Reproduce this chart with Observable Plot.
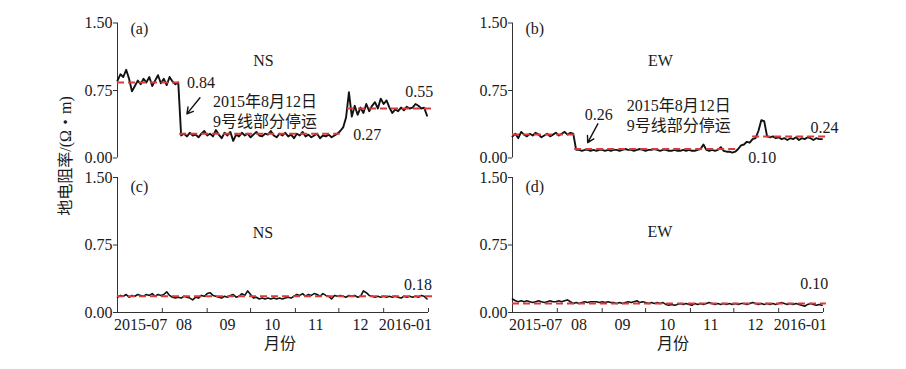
<!DOCTYPE html>
<html>
<head>
<meta charset="utf-8">
<script src="https://cdn.jsdelivr.net/npm/d3@7"></script>
<script src="https://cdn.jsdelivr.net/npm/@observablehq/plot@0.6"></script>
<style>
  html, body { margin: 0; padding: 0; background: #fff; }
  #root { position: relative; width: 906px; height: 369px; overflow: hidden;
          font-family: "Liberation Serif", "Noto Sans CJK SC", serif; color: #1a1a1a; }
  #root svg { position: absolute; left: 0; top: 0; }
  .ytitle { position: absolute; left: 64px; top: 156px; transform: translate(-50%, -50%) rotate(-90deg);
            white-space: nowrap; font-size: 16px; }
  .xtitle { position: absolute; top: 342px; transform: translate(-50%, -50%); font-size: 16px; white-space: nowrap; }
</style>
</head>
<body>
<div id="root"></div>
<script>
// ---------------- DATA ----------------
const startDate = "2015-07-01";
const endDate = "2016-02-01";
const stepDays = 2; // one reading every 2 days

const yTicks = [0, 0.75, 1.5];
const monthTicks = ["2015-08-01", "2015-09-01", "2015-10-01", "2015-11-01", "2015-12-01", "2016-01-01", "2016-02-01"];
const monthLabelDates = ["2015-07-17", "2015-08-16", "2015-09-15", "2015-10-16", "2015-11-15", "2015-12-16", "2016-01-16"];
const monthLabels = ["2015-07", "08", "09", "10", "11", "12", "2016-01"];

// (a) NS, station 1
const seriesA = [
  0.86, 0.93, 0.90, 0.98, 0.88, 0.74, 0.80, 0.86, 0.82, 0.88, 0.84, 0.90, 0.80, 0.86, 0.92, 0.83, 0.88, 0.81, 0.90, 0.85, 0.82, 0.84,
  0.25, 0.27, 0.24, 0.28, 0.25, 0.26, 0.23, 0.27, 0.30, 0.25,
  0.27, 0.24, 0.31, 0.26, 0.22, 0.28, 0.25, 0.29, 0.19, 0.26,
  0.24, 0.28, 0.25, 0.27, 0.23, 0.26, 0.29, 0.25, 0.24, 0.27,
  0.26, 0.30, 0.25, 0.23, 0.27, 0.25, 0.28, 0.24, 0.26, 0.22,
  0.27, 0.25, 0.29, 0.24, 0.26, 0.23, 0.25, 0.27, 0.22, 0.25,
  0.24, 0.26, 0.23, 0.25,
  0.27, 0.30, 0.34, 0.45, 0.73, 0.46, 0.58, 0.48, 0.56, 0.50,
  0.60, 0.52, 0.58, 0.62, 0.55, 0.66, 0.60, 0.64, 0.56, 0.50,
  0.54, 0.52, 0.56, 0.53, 0.57, 0.55, 0.56, 0.60, 0.58, 0.55, 0.56, 0.47
];
// (b) EW, station 1
const seriesB = [
  0.24, 0.27, 0.22, 0.29, 0.26, 0.24, 0.27, 0.25, 0.28, 0.26, 0.23, 0.25, 0.27, 0.24, 0.26, 0.28, 0.25, 0.27, 0.29, 0.26, 0.28, 0.27,
  0.09, 0.09, 0.08, 0.09, 0.09, 0.08, 0.09, 0.08, 0.09, 0.09,
  0.08, 0.09, 0.08, 0.09, 0.09, 0.08, 0.09, 0.10, 0.09, 0.09,
  0.08, 0.09, 0.10, 0.09, 0.08, 0.09, 0.09, 0.10, 0.09, 0.08,
  0.09, 0.09, 0.08, 0.08, 0.09, 0.08, 0.08, 0.09, 0.08, 0.09,
  0.08, 0.08, 0.09, 0.10, 0.15, 0.09, 0.08, 0.09, 0.08, 0.09,
  0.12, 0.08, 0.07, 0.07, 0.06, 0.07, 0.10, 0.14, 0.15, 0.18,
  0.17, 0.21, 0.22, 0.30, 0.42, 0.41, 0.24, 0.23, 0.24, 0.22,
  0.23, 0.21, 0.22, 0.20, 0.22, 0.21, 0.23, 0.20, 0.22, 0.21,
  0.23, 0.22, 0.20, 0.22, 0.21, 0.21
];
// (c) NS, station 2
const seriesC = [
  0.17, 0.19, 0.18, 0.20, 0.17, 0.19, 0.18, 0.20, 0.19, 0.18,
  0.20, 0.19, 0.21, 0.18, 0.20, 0.19, 0.20, 0.23, 0.19, 0.17,
  0.16, 0.17, 0.16, 0.18, 0.17, 0.16, 0.14, 0.17, 0.16, 0.19,
  0.18, 0.21, 0.22, 0.19, 0.18, 0.17, 0.16, 0.18, 0.17, 0.19,
  0.20, 0.17, 0.18, 0.21, 0.19, 0.24, 0.20, 0.16, 0.17, 0.15,
  0.16, 0.15, 0.16, 0.15, 0.16, 0.15, 0.16, 0.15, 0.16, 0.17,
  0.16, 0.18, 0.20, 0.19, 0.21, 0.18, 0.20, 0.19, 0.21, 0.20,
  0.18, 0.21, 0.19, 0.18, 0.15, 0.19, 0.18, 0.19, 0.18, 0.17,
  0.19, 0.18, 0.19, 0.17, 0.18, 0.24, 0.22, 0.19, 0.18, 0.17,
  0.18, 0.17, 0.18, 0.17, 0.18, 0.17, 0.18, 0.17, 0.16, 0.18,
  0.17, 0.18, 0.17, 0.18, 0.17, 0.19, 0.18, 0.15
];
// (d) EW, station 2
const seriesD = [
  0.15, 0.13, 0.12, 0.13, 0.12, 0.13, 0.12, 0.11, 0.12, 0.13,
  0.12, 0.11, 0.12, 0.13, 0.12, 0.12, 0.13, 0.12, 0.13, 0.14,
  0.12, 0.10, 0.11, 0.10, 0.11, 0.12, 0.11, 0.12, 0.12, 0.12,
  0.11, 0.12, 0.11, 0.12, 0.11, 0.11, 0.10, 0.11, 0.10, 0.11,
  0.12, 0.11, 0.12, 0.13, 0.11, 0.12, 0.11, 0.10, 0.11, 0.10,
  0.11, 0.10, 0.11, 0.09, 0.08, 0.09, 0.08, 0.09, 0.10, 0.09,
  0.10, 0.09, 0.08, 0.10, 0.09, 0.10, 0.09, 0.10, 0.11, 0.10,
  0.09, 0.10, 0.09, 0.10, 0.09, 0.10, 0.09, 0.10, 0.09, 0.10,
  0.10, 0.09, 0.10, 0.11, 0.10, 0.09, 0.10, 0.09, 0.10, 0.09,
  0.10, 0.09, 0.10, 0.11, 0.10, 0.09, 0.10, 0.09, 0.10, 0.09,
  0.08, 0.07, 0.09, 0.10, 0.09, 0.08, 0.09, 0.08
];

// mean levels (red dashed segments)
const meansA = [
  {from: "2015-07-01", to: "2015-08-13", value: 0.84},
  {from: "2015-08-13", to: "2015-12-02", value: 0.27},
  {from: "2015-12-07", to: "2016-02-04", value: 0.55}
];
const meansB = [
  {from: "2015-07-01", to: "2015-08-13", value: 0.26},
  {from: "2015-08-13", to: "2015-12-05", value: 0.10},
  {from: "2015-12-14", to: "2016-02-05", value: 0.24}
];
const meansC = [{from: "2015-07-01", to: "2016-02-04", value: 0.18}];
const meansD = [{from: "2015-07-01", to: "2016-02-03", value: 0.10}];

// value annotations
const valueLabelsA = [
  {date: "2015-08-18", value: 0.84, text: "0.84"},
  {date: "2015-12-11", value: 0.26, text: "0.27"},
  {date: "2016-01-16", value: 0.74, text: "0.55"}
];
const valueLabelsB = [
  {date: "2015-08-20", value: 0.48, text: "0.26"},
  {date: "2015-12-11", value: 0.00, text: "0.10"},
  {date: "2016-01-23", value: 0.34, text: "0.24"}
];
const valueLabelsC = [{date: "2016-01-15", value: 0.31, text: "0.18"}];
const valueLabelsD = [{date: "2016-01-16", value: 0.32, text: "0.10"}];

const eventText = "2015年8月12日\n9号线部分停运";
const notesA = [{date: "2015-09-05", value: 0.53, text: eventText}];
const notesB = [{date: "2015-09-18", value: 0.48, text: eventText}];
const arrowsA = [{x1: "2015-08-27", y1: 0.67, x2: "2015-08-18", y2: 0.49}];
const arrowsB = [{x1: "2015-08-29", y1: 0.38, x2: "2015-08-22", y2: 0.17}];

const yTitle = "地电阻率/(Ω・m)";
const xTitle = "月份";

// ---------------- RENDER ----------------
const parse = d3.utcParse("%Y-%m-%d");
const start = parse(startDate), end = parse(endDate);
const toSeries = vals => vals.map((v, i) => ({date: d3.utcDay.offset(start, i * stepDays), value: v}));
const toMeans = arr => arr.map(d => ({from: parse(d.from), to: parse(d.to), value: d.value}));
const toLabels = arr => arr.map(d => ({...d, date: parse(d.date)}));
const toArrows = arr => arr.map(d => ({...d, x1: parse(d.x1), x2: parse(d.x2)}));
const labelMap = new Map(monthLabelDates.map((d, i) => [+parse(d), monthLabels[i]]));

const W = 906, H = 369;
const RED = "#d93a3a", INK = "#1a1a1a", AXIS = "#333";
const FONT = "'Liberation Serif', 'Noto Sans CJK SC', serif";

const panels = [
  {tag: "(a)", dir: "NS", series: seriesA, means: meansA, labels: valueLabelsA, notes: notesA, arrows: arrowsA,
   frame: {l: 117, r: 428, t: 22.5, b: 157.5}, bottom: false, lw: 1.9, tagDy: 6, dirDx: -9.5, dirDy: 37.5},
  {tag: "(b)", dir: "EW", series: seriesB, means: meansB, labels: valueLabelsB, notes: notesB, arrows: arrowsB,
   frame: {l: 512, r: 823, t: 22.5, b: 157.5}, bottom: false, lw: 1.9, tagDy: 6, dirDx: -7.5, dirDy: 37.5},
  {tag: "(c)", dir: "NS", series: seriesC, means: meansC, labels: valueLabelsC, notes: [], arrows: [],
   frame: {l: 117, r: 428, t: 177, b: 312}, bottom: true, lw: 1.6, tagDy: 9, dirDx: -10, dirDy: 55},
  {tag: "(d)", dir: "EW", series: seriesD, means: meansD, labels: valueLabelsD, notes: [], arrows: [],
   frame: {l: 512, r: 823, t: 177, b: 312}, bottom: true, lw: 1.6, tagDy: 9, dirDx: -8, dirDy: 54}
];

const root = document.getElementById("root");

for (const p of panels) {
  const f = p.frame;
  const marks = [
    Plot.ruleX([start], {y1: 0, y2: 1.5, stroke: AXIS, strokeWidth: 1}),
    Plot.axisY(yTicks, {tickFormat: d3.format(".2f"), tickSize: 4, tickPadding: 1, label: null, stroke: AXIS, fill: INK}),
    Plot.lineY(toSeries(p.series), {x: "date", y: "value", stroke: "#111", strokeWidth: p.lw, strokeLinejoin: "round"}),
    Plot.ruleY(toMeans(p.means), {y: "value", x1: "from", x2: "to", stroke: RED, strokeWidth: 2, strokeDasharray: "7,4"}),
    Plot.text(toLabels(p.labels), {x: "date", y: "value", text: "text", textAnchor: "start", lineAnchor: "middle", fill: INK}),
    Plot.text([p.tag], {frameAnchor: "top-left", text: d => d, textAnchor: "start", lineAnchor: "middle", dx: 13, dy: p.tagDy, fill: INK}),
    Plot.text([p.dir], {frameAnchor: "top", text: d => d, lineAnchor: "middle", dx: p.dirDx, dy: p.dirDy, fill: INK})
  ];
  if (p.notes.length) {
    marks.push(Plot.text(toLabels(p.notes), {x: "date", y: "value", text: "text", textAnchor: "start", lineAnchor: "middle", lineHeight: 1.25, fill: INK}));
  }
  if (p.arrows.length) {
    marks.push(Plot.arrow(toArrows(p.arrows), {x1: "x1", y1: "y1", x2: "x2", y2: "y2", stroke: "#111", strokeWidth: 1.4, headLength: 9}));
  }
  if (p.bottom) {
    const ticks = monthTicks.map(parse);
    marks.push(
      Plot.ruleY([0], {x1: start, x2: end, stroke: AXIS, strokeWidth: 1}),
      Plot.ruleX(ticks, {x: d => d, y1: 0, y2: 0, insetTop: -4, stroke: AXIS, strokeWidth: 1}),
      Plot.axisX(monthLabelDates.map(parse), {tickSize: 0, tickPadding: 6, tickFormat: d => labelMap.get(+d), label: null, fill: INK})
    );
  }
  const svg = Plot.plot({
    width: W, height: H,
    marginLeft: f.l, marginRight: W - f.r, marginTop: f.t, marginBottom: H - f.b,
    x: {type: "utc", domain: [start, end], axis: p.bottom ? undefined : null, label: null},
    y: {domain: [0, 1.5], label: null},
    style: {background: "transparent", fontFamily: FONT, fontSize: "16px", overflow: "visible", color: INK},
    marks
  });
  root.appendChild(svg);
}

const yt = document.createElement("div");
yt.className = "ytitle"; yt.textContent = yTitle; root.appendChild(yt);
for (const cx of [280, 673]) {
  const xt = document.createElement("div");
  xt.className = "xtitle"; xt.style.left = cx + "px"; xt.textContent = xTitle; root.appendChild(xt);
}
</script>
</body>
</html>
